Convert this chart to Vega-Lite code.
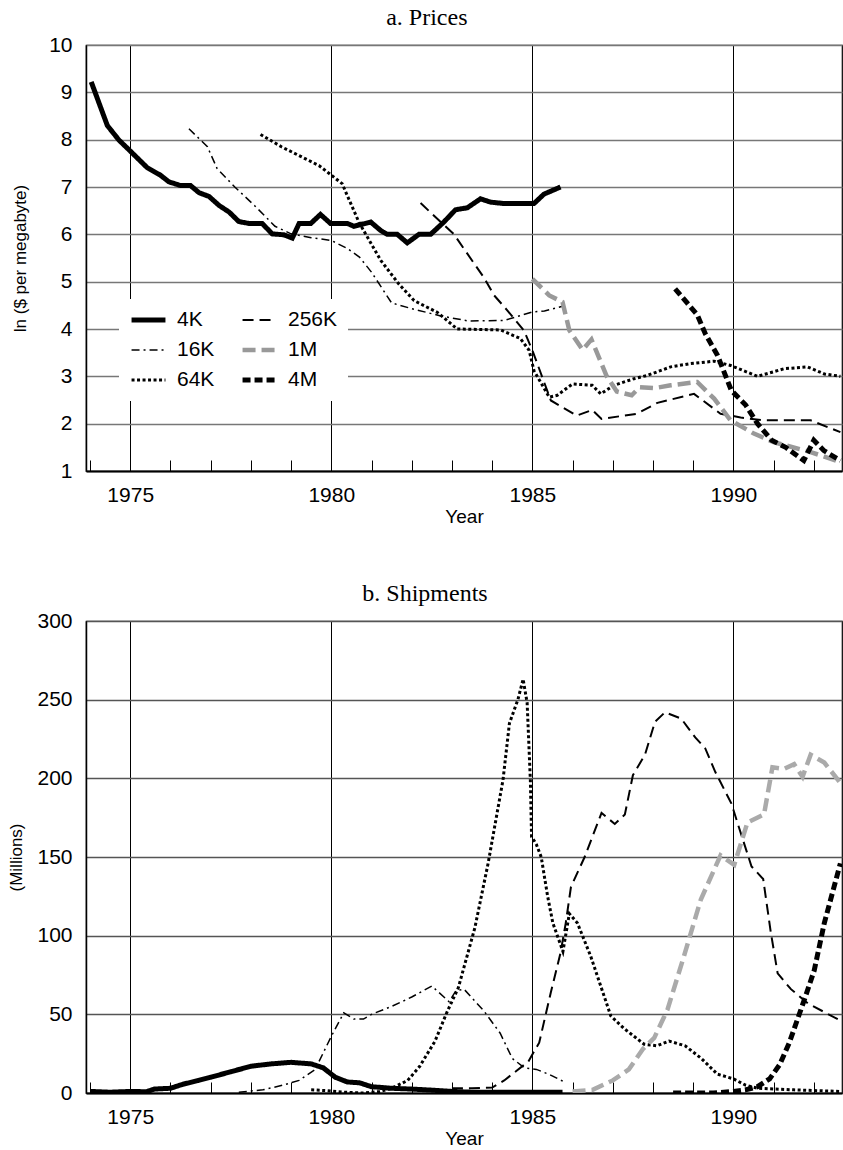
{
  "$schema": "https://vega.github.io/schema/vega-lite/v6.json",
  "padding": {"left": 7, "top": 5, "right": 0, "bottom": 5},
  "background": "white",
  "bounds": "flush",
  "spacing": 150,
  "config": {
    "font": "Liberation Sans",
    "view": {"stroke": "black", "strokeWidth": 1.2},
    "axis": {"labelFont": "Liberation Sans", "labelColor": "black", "titleFont": "Liberation Sans", "titleFontWeight": "normal", "titleColor": "black", "domainColor": "black", "labelFlush": false, "labelOverlap": false},
    "title": {"font": "Liberation Serif", "fontSize": 24, "fontWeight": "normal", "color": "black", "frame": "bounds", "offset": 0},
    "line": {"clip": true}
  },
  "datasets": {
    "prices": [
      {"chip": "4K", "year": 1974.03, "value": 9.22}, {"chip": "4K", "year": 1974.43, "value": 8.3}, {"chip": "4K", "year": 1974.72, "value": 7.99}, {"chip": "4K", "year": 1975.0, "value": 7.76}, {"chip": "4K", "year": 1975.42, "value": 7.41}, {"chip": "4K", "year": 1975.75, "value": 7.25}, {"chip": "4K", "year": 1975.96, "value": 7.11}, {"chip": "4K", "year": 1976.25, "value": 7.03}, {"chip": "4K", "year": 1976.5, "value": 7.03}, {"chip": "4K", "year": 1976.71, "value": 6.88}, {"chip": "4K", "year": 1976.96, "value": 6.8}, {"chip": "4K", "year": 1977.21, "value": 6.61}, {"chip": "4K", "year": 1977.46, "value": 6.47}, {"chip": "4K", "year": 1977.7, "value": 6.27}, {"chip": "4K", "year": 1977.95, "value": 6.23}, {"chip": "4K", "year": 1978.28, "value": 6.23}, {"chip": "4K", "year": 1978.53, "value": 6.01}, {"chip": "4K", "year": 1978.82, "value": 5.99}, {"chip": "4K", "year": 1979.03, "value": 5.92}, {"chip": "4K", "year": 1979.2, "value": 6.23}, {"chip": "4K", "year": 1979.49, "value": 6.23}, {"chip": "4K", "year": 1979.73, "value": 6.42}, {"chip": "4K", "year": 1979.98, "value": 6.23}, {"chip": "4K", "year": 1980.4, "value": 6.23}, {"chip": "4K", "year": 1980.56, "value": 6.17}, {"chip": "4K", "year": 1980.98, "value": 6.26}, {"chip": "4K", "year": 1981.23, "value": 6.08}, {"chip": "4K", "year": 1981.39, "value": 6.0}, {"chip": "4K", "year": 1981.64, "value": 6.0}, {"chip": "4K", "year": 1981.89, "value": 5.82}, {"chip": "4K", "year": 1982.18, "value": 6.0}, {"chip": "4K", "year": 1982.47, "value": 6.0}, {"chip": "4K", "year": 1982.8, "value": 6.26}, {"chip": "4K", "year": 1983.09, "value": 6.52}, {"chip": "4K", "year": 1983.38, "value": 6.56}, {"chip": "4K", "year": 1983.71, "value": 6.75}, {"chip": "4K", "year": 1983.96, "value": 6.68}, {"chip": "4K", "year": 1984.3, "value": 6.65}, {"chip": "4K", "year": 1985.04, "value": 6.65}, {"chip": "4K", "year": 1985.29, "value": 6.85}, {"chip": "4K", "year": 1985.7, "value": 7.0},
      {"chip": "16K", "year": 1976.46, "value": 8.23}, {"chip": "16K", "year": 1976.92, "value": 7.85}, {"chip": "16K", "year": 1977.16, "value": 7.39}, {"chip": "16K", "year": 1977.6, "value": 7.0}, {"chip": "16K", "year": 1978.1, "value": 6.6}, {"chip": "16K", "year": 1978.6, "value": 6.17}, {"chip": "16K", "year": 1979.0, "value": 6.01}, {"chip": "16K", "year": 1979.5, "value": 5.93}, {"chip": "16K", "year": 1980.0, "value": 5.87}, {"chip": "16K", "year": 1980.4, "value": 5.7}, {"chip": "16K", "year": 1980.7, "value": 5.52}, {"chip": "16K", "year": 1981.0, "value": 5.2}, {"chip": "16K", "year": 1981.5, "value": 4.55}, {"chip": "16K", "year": 1982.0, "value": 4.43}, {"chip": "16K", "year": 1982.7, "value": 4.28}, {"chip": "16K", "year": 1983.4, "value": 4.17}, {"chip": "16K", "year": 1984.3, "value": 4.18}, {"chip": "16K", "year": 1985.0, "value": 4.36}, {"chip": "16K", "year": 1985.3, "value": 4.38}, {"chip": "16K", "year": 1985.75, "value": 4.48},
      {"chip": "64K", "year": 1978.24, "value": 8.11}, {"chip": "64K", "year": 1978.76, "value": 7.85}, {"chip": "64K", "year": 1979.7, "value": 7.45}, {"chip": "64K", "year": 1980.0, "value": 7.25}, {"chip": "64K", "year": 1980.27, "value": 7.07}, {"chip": "64K", "year": 1980.69, "value": 6.25}, {"chip": "64K", "year": 1981.23, "value": 5.45}, {"chip": "64K", "year": 1981.68, "value": 4.95}, {"chip": "64K", "year": 1982.06, "value": 4.6}, {"chip": "64K", "year": 1982.64, "value": 4.35}, {"chip": "64K", "year": 1983.13, "value": 4.0}, {"chip": "64K", "year": 1984.21, "value": 3.98}, {"chip": "64K", "year": 1984.7, "value": 3.8}, {"chip": "64K", "year": 1984.92, "value": 3.55}, {"chip": "64K", "year": 1985.04, "value": 3.12}, {"chip": "64K", "year": 1985.42, "value": 2.56}, {"chip": "64K", "year": 1985.62, "value": 2.6}, {"chip": "64K", "year": 1986.0, "value": 2.84}, {"chip": "64K", "year": 1986.49, "value": 2.81}, {"chip": "64K", "year": 1986.7, "value": 2.63}, {"chip": "64K", "year": 1987.03, "value": 2.81}, {"chip": "64K", "year": 1987.53, "value": 2.95}, {"chip": "64K", "year": 1987.86, "value": 3.02}, {"chip": "64K", "year": 1988.44, "value": 3.2}, {"chip": "64K", "year": 1988.94, "value": 3.27}, {"chip": "64K", "year": 1989.52, "value": 3.32}, {"chip": "64K", "year": 1989.93, "value": 3.23}, {"chip": "64K", "year": 1990.6, "value": 3.0}, {"chip": "64K", "year": 1991.26, "value": 3.16}, {"chip": "64K", "year": 1991.84, "value": 3.2}, {"chip": "64K", "year": 1992.26, "value": 3.05}, {"chip": "64K", "year": 1992.66, "value": 3.0},
      {"chip": "256K", "year": 1982.22, "value": 6.66}, {"chip": "256K", "year": 1983.05, "value": 6.0}, {"chip": "256K", "year": 1983.8, "value": 5.08}, {"chip": "256K", "year": 1984.05, "value": 4.71}, {"chip": "256K", "year": 1984.38, "value": 4.39}, {"chip": "256K", "year": 1984.79, "value": 3.97}, {"chip": "256K", "year": 1985.0, "value": 3.55}, {"chip": "256K", "year": 1985.46, "value": 2.49}, {"chip": "256K", "year": 1986.1, "value": 2.17}, {"chip": "256K", "year": 1986.49, "value": 2.29}, {"chip": "256K", "year": 1986.72, "value": 2.1}, {"chip": "256K", "year": 1987.6, "value": 2.21}, {"chip": "256K", "year": 1988.11, "value": 2.44}, {"chip": "256K", "year": 1989.02, "value": 2.63}, {"chip": "256K", "year": 1989.68, "value": 2.21}, {"chip": "256K", "year": 1990.18, "value": 2.13}, {"chip": "256K", "year": 1990.76, "value": 2.07}, {"chip": "256K", "year": 1991.92, "value": 2.07}, {"chip": "256K", "year": 1992.66, "value": 1.82},
      {"chip": "1M", "year": 1985.0, "value": 5.06}, {"chip": "1M", "year": 1985.42, "value": 4.71}, {"chip": "1M", "year": 1985.75, "value": 4.57}, {"chip": "1M", "year": 1985.92, "value": 3.97}, {"chip": "1M", "year": 1986.25, "value": 3.56}, {"chip": "1M", "year": 1986.47, "value": 3.78}, {"chip": "1M", "year": 1986.85, "value": 3.0}, {"chip": "1M", "year": 1987.1, "value": 2.68}, {"chip": "1M", "year": 1987.47, "value": 2.6}, {"chip": "1M", "year": 1987.67, "value": 2.77}, {"chip": "1M", "year": 1988.03, "value": 2.75}, {"chip": "1M", "year": 1988.44, "value": 2.81}, {"chip": "1M", "year": 1989.1, "value": 2.88}, {"chip": "1M", "year": 1989.52, "value": 2.53}, {"chip": "1M", "year": 1989.93, "value": 2.07}, {"chip": "1M", "year": 1990.51, "value": 1.79}, {"chip": "1M", "year": 1991.0, "value": 1.61}, {"chip": "1M", "year": 1991.92, "value": 1.4}, {"chip": "1M", "year": 1992.66, "value": 1.19},
      {"chip": "4M", "year": 1988.55, "value": 4.85}, {"chip": "4M", "year": 1988.85, "value": 4.55}, {"chip": "4M", "year": 1989.1, "value": 4.3}, {"chip": "4M", "year": 1989.3, "value": 3.9}, {"chip": "4M", "year": 1989.6, "value": 3.45}, {"chip": "4M", "year": 1989.95, "value": 2.7}, {"chip": "4M", "year": 1990.3, "value": 2.4}, {"chip": "4M", "year": 1990.6, "value": 2.0}, {"chip": "4M", "year": 1990.95, "value": 1.65}, {"chip": "4M", "year": 1991.3, "value": 1.5}, {"chip": "4M", "year": 1991.75, "value": 1.22}, {"chip": "4M", "year": 1992.0, "value": 1.65}, {"chip": "4M", "year": 1992.25, "value": 1.43}, {"chip": "4M", "year": 1992.66, "value": 1.22}
    ],
    "ships": [
      {"chip": "4K", "year": 1974.0, "value": 1}, {"chip": "4K", "year": 1974.5, "value": 0.5}, {"chip": "4K", "year": 1975.0, "value": 1}, {"chip": "4K", "year": 1975.4, "value": 0.8}, {"chip": "4K", "year": 1975.6, "value": 2.5}, {"chip": "4K", "year": 1976.0, "value": 3}, {"chip": "4K", "year": 1976.3, "value": 5.5}, {"chip": "4K", "year": 1976.7, "value": 8}, {"chip": "4K", "year": 1977.0, "value": 10}, {"chip": "4K", "year": 1977.5, "value": 13.5}, {"chip": "4K", "year": 1978.0, "value": 17}, {"chip": "4K", "year": 1978.5, "value": 18.5}, {"chip": "4K", "year": 1979.0, "value": 19.5}, {"chip": "4K", "year": 1979.5, "value": 18.5}, {"chip": "4K", "year": 1979.8, "value": 16}, {"chip": "4K", "year": 1980.1, "value": 10}, {"chip": "4K", "year": 1980.4, "value": 7}, {"chip": "4K", "year": 1980.7, "value": 6.5}, {"chip": "4K", "year": 1981.0, "value": 4}, {"chip": "4K", "year": 1981.5, "value": 3}, {"chip": "4K", "year": 1982.0, "value": 2.5}, {"chip": "4K", "year": 1982.5, "value": 1.8}, {"chip": "4K", "year": 1983.0, "value": 1}, {"chip": "4K", "year": 1983.5, "value": 0.5}, {"chip": "4K", "year": 1984.5, "value": 0.5}, {"chip": "4K", "year": 1985.75, "value": 0.5},
      {"chip": "16K", "year": 1977.7, "value": 0.5}, {"chip": "16K", "year": 1978.3, "value": 2}, {"chip": "16K", "year": 1978.8, "value": 5}, {"chip": "16K", "year": 1979.2, "value": 8}, {"chip": "16K", "year": 1979.6, "value": 15}, {"chip": "16K", "year": 1979.98, "value": 35}, {"chip": "16K", "year": 1980.31, "value": 51}, {"chip": "16K", "year": 1980.56, "value": 47}, {"chip": "16K", "year": 1980.8, "value": 47}, {"chip": "16K", "year": 1981.0, "value": 50}, {"chip": "16K", "year": 1981.5, "value": 55}, {"chip": "16K", "year": 1982.0, "value": 61}, {"chip": "16K", "year": 1982.5, "value": 68}, {"chip": "16K", "year": 1982.93, "value": 58}, {"chip": "16K", "year": 1983.1, "value": 65}, {"chip": "16K", "year": 1983.3, "value": 66}, {"chip": "16K", "year": 1983.8, "value": 52}, {"chip": "16K", "year": 1984.2, "value": 38}, {"chip": "16K", "year": 1984.5, "value": 22}, {"chip": "16K", "year": 1984.8, "value": 16}, {"chip": "16K", "year": 1985.1, "value": 15}, {"chip": "16K", "year": 1985.4, "value": 12}, {"chip": "16K", "year": 1985.8, "value": 7},
      {"chip": "64K", "year": 1979.5, "value": 2}, {"chip": "64K", "year": 1979.9, "value": 1.5}, {"chip": "64K", "year": 1980.3, "value": 0.5}, {"chip": "64K", "year": 1980.8, "value": 0}, {"chip": "64K", "year": 1981.2, "value": 1}, {"chip": "64K", "year": 1981.5, "value": 3}, {"chip": "64K", "year": 1981.9, "value": 8}, {"chip": "64K", "year": 1982.2, "value": 17}, {"chip": "64K", "year": 1982.58, "value": 33}, {"chip": "64K", "year": 1982.87, "value": 51}, {"chip": "64K", "year": 1983.16, "value": 67}, {"chip": "64K", "year": 1983.57, "value": 105}, {"chip": "64K", "year": 1983.9, "value": 146}, {"chip": "64K", "year": 1984.27, "value": 199}, {"chip": "64K", "year": 1984.43, "value": 235}, {"chip": "64K", "year": 1984.64, "value": 250}, {"chip": "64K", "year": 1984.77, "value": 263}, {"chip": "64K", "year": 1984.87, "value": 248}, {"chip": "64K", "year": 1984.95, "value": 199}, {"chip": "64K", "year": 1984.98, "value": 163}, {"chip": "64K", "year": 1985.1, "value": 158}, {"chip": "64K", "year": 1985.22, "value": 150}, {"chip": "64K", "year": 1985.38, "value": 125}, {"chip": "64K", "year": 1985.51, "value": 108}, {"chip": "64K", "year": 1985.76, "value": 90}, {"chip": "64K", "year": 1985.92, "value": 114}, {"chip": "64K", "year": 1986.12, "value": 108}, {"chip": "64K", "year": 1986.45, "value": 87}, {"chip": "64K", "year": 1986.95, "value": 49}, {"chip": "64K", "year": 1987.28, "value": 41}, {"chip": "64K", "year": 1987.78, "value": 31}, {"chip": "64K", "year": 1988.1, "value": 30}, {"chip": "64K", "year": 1988.4, "value": 33}, {"chip": "64K", "year": 1988.8, "value": 30}, {"chip": "64K", "year": 1989.2, "value": 22}, {"chip": "64K", "year": 1989.6, "value": 12}, {"chip": "64K", "year": 1990.0, "value": 9}, {"chip": "64K", "year": 1990.3, "value": 5}, {"chip": "64K", "year": 1990.6, "value": 3}, {"chip": "64K", "year": 1991.5, "value": 2}, {"chip": "64K", "year": 1992.66, "value": 1},
      {"chip": "256K", "year": 1983.0, "value": 3}, {"chip": "256K", "year": 1983.5, "value": 3}, {"chip": "256K", "year": 1984.0, "value": 3.5}, {"chip": "256K", "year": 1984.3, "value": 8}, {"chip": "256K", "year": 1984.6, "value": 14}, {"chip": "256K", "year": 1984.9, "value": 20}, {"chip": "256K", "year": 1985.17, "value": 32}, {"chip": "256K", "year": 1985.46, "value": 64}, {"chip": "256K", "year": 1985.7, "value": 89}, {"chip": "256K", "year": 1985.83, "value": 108}, {"chip": "256K", "year": 1985.96, "value": 131}, {"chip": "256K", "year": 1986.3, "value": 150}, {"chip": "256K", "year": 1986.72, "value": 178}, {"chip": "256K", "year": 1987.05, "value": 171}, {"chip": "256K", "year": 1987.3, "value": 177}, {"chip": "256K", "year": 1987.5, "value": 202}, {"chip": "256K", "year": 1987.8, "value": 215}, {"chip": "256K", "year": 1988.05, "value": 236}, {"chip": "256K", "year": 1988.3, "value": 242}, {"chip": "256K", "year": 1988.7, "value": 238}, {"chip": "256K", "year": 1989.05, "value": 226}, {"chip": "256K", "year": 1989.3, "value": 219}, {"chip": "256K", "year": 1989.55, "value": 204}, {"chip": "256K", "year": 1989.95, "value": 184}, {"chip": "256K", "year": 1990.16, "value": 167}, {"chip": "256K", "year": 1990.45, "value": 144}, {"chip": "256K", "year": 1990.74, "value": 136}, {"chip": "256K", "year": 1990.93, "value": 102}, {"chip": "256K", "year": 1991.1, "value": 76}, {"chip": "256K", "year": 1991.43, "value": 66}, {"chip": "256K", "year": 1991.85, "value": 57}, {"chip": "256K", "year": 1992.66, "value": 46},
      {"chip": "1M", "year": 1986.0, "value": 1}, {"chip": "1M", "year": 1986.5, "value": 2}, {"chip": "1M", "year": 1987.0, "value": 8}, {"chip": "1M", "year": 1987.4, "value": 15}, {"chip": "1M", "year": 1987.75, "value": 28}, {"chip": "1M", "year": 1988.03, "value": 35}, {"chip": "1M", "year": 1988.36, "value": 53}, {"chip": "1M", "year": 1988.77, "value": 87}, {"chip": "1M", "year": 1989.19, "value": 123}, {"chip": "1M", "year": 1989.68, "value": 151}, {"chip": "1M", "year": 1990.02, "value": 145}, {"chip": "1M", "year": 1990.35, "value": 172}, {"chip": "1M", "year": 1990.76, "value": 177}, {"chip": "1M", "year": 1990.97, "value": 207}, {"chip": "1M", "year": 1991.26, "value": 206}, {"chip": "1M", "year": 1991.51, "value": 209}, {"chip": "1M", "year": 1991.72, "value": 201}, {"chip": "1M", "year": 1991.92, "value": 215}, {"chip": "1M", "year": 1992.26, "value": 210}, {"chip": "1M", "year": 1992.66, "value": 197},
      {"chip": "4M", "year": 1988.5, "value": 0}, {"chip": "4M", "year": 1989.0, "value": 0}, {"chip": "4M", "year": 1989.5, "value": 0}, {"chip": "4M", "year": 1990.0, "value": 1}, {"chip": "4M", "year": 1990.3, "value": 2}, {"chip": "4M", "year": 1990.6, "value": 4}, {"chip": "4M", "year": 1990.9, "value": 9}, {"chip": "4M", "year": 1991.15, "value": 18}, {"chip": "4M", "year": 1991.39, "value": 32}, {"chip": "4M", "year": 1991.76, "value": 59}, {"chip": "4M", "year": 1992.01, "value": 78}, {"chip": "4M", "year": 1992.26, "value": 108}, {"chip": "4M", "year": 1992.66, "value": 146}
    ]
  },
  "vconcat": [
    {
      "title": {"text": "a. Prices"},
      "width": 756,
      "height": 426,
      "data": {"name": "prices"},
      "mark": {"type": "line", "clip": true},
      "encoding": {
        "x": {"field": "year", "type": "quantitative", "scale": {"domain": [1973.9, 1992.7], "nice": false, "zero": false},
          "axis": {"values": [1974, 1975, 1976, 1977, 1978, 1979, 1980, 1981, 1982, 1983, 1984, 1985, 1986, 1987, 1988, 1989, 1990, 1991, 1992],
            "format": "d", "labelExpr": "datum.value % 5 === 0 ? datum.label : ''", "labelFontSize": 21, "labelPadding": 24,
            "tickSize": -11, "tickColor": "black", "tickWidth": 1, "domainWidth": 2,
            "grid": true, "gridColor": "black", "gridWidth": 1, "gridOpacity": {"condition": {"test": "datum.value % 5 === 0", "value": 1}, "value": 0},
            "title": "Year", "titleFontSize": 19, "titlePadding": 2}},
        "y": {"field": "value", "type": "quantitative", "scale": {"domain": [1, 10], "nice": false, "zero": false},
          "axis": {"values": [1, 2, 3, 4, 5, 6, 7, 8, 9, 10], "labelFontSize": 21, "ticks": false, "labelPadding": 14, "domainWidth": 1.5,
            "grid": true, "gridColor": "#777777", "gridWidth": 1.3, "title": "ln ($ per megabyte)", "titleFontSize": 17, "titlePadding": 19}},
        "color": {"field": "chip", "type": "nominal",
          "scale": {"domain": ["4K", "16K", "64K", "256K", "1M", "4M"], "range": ["black", "black", "black", "black", "#999999", "black"]},
          "legend": {"orient": "none", "legendX": 33, "legendY": 254, "columns": 2, "direction": "vertical", "title": null, "symbolType": "stroke", "symbolSize": 1150,
            "clipHeight": 22, "rowPadding": 8, "columnPadding": 25, "labelOffset": 9, "labelFontSize": 21, "labelFont": "Liberation Sans", "labelColor": "black",
            "fillColor": "white", "padding": 10}},
        "strokeDash": {"field": "chip", "type": "nominal",
          "scale": {"domain": ["4K", "16K", "64K", "256K", "1M", "4M"], "range": [[1, 0], [8, 4, 2, 4], [3, 2.5], [11, 6], [13, 6], [8, 4]]}},
        "strokeWidth": {"field": "chip", "type": "nominal",
          "scale": {"type": "ordinal", "domain": ["4K", "16K", "64K", "256K", "1M", "4M"], "range": [5, 1.5, 3, 2, 4.5, 5]}}
      }
    },
    {
      "title": {"text": "b. Shipments"},
      "width": 756,
      "height": 472,
      "data": {"name": "ships"},
      "mark": {"type": "line", "clip": true},
      "encoding": {
        "x": {"field": "year", "type": "quantitative", "scale": {"domain": [1973.9, 1992.7], "nice": false, "zero": false},
          "axis": {"values": [1974, 1975, 1976, 1977, 1978, 1979, 1980, 1981, 1982, 1983, 1984, 1985, 1986, 1987, 1988, 1989, 1990, 1991, 1992],
            "format": "d", "labelExpr": "datum.value % 5 === 0 ? datum.label : ''", "labelFontSize": 21, "labelPadding": 24,
            "tickSize": -11, "tickColor": "black", "tickWidth": 1, "domainWidth": 2,
            "grid": true, "gridColor": "black", "gridWidth": 1, "gridOpacity": {"condition": {"test": "datum.value % 5 === 0", "value": 1}, "value": 0},
            "title": "Year", "titleFontSize": 19, "titlePadding": 2}},
        "y": {"field": "value", "type": "quantitative", "scale": {"domain": [0, 300], "nice": false},
          "axis": {"values": [0, 50, 100, 150, 200, 250, 300], "labelFontSize": 21, "ticks": false, "labelPadding": 14, "domainWidth": 1.5,
            "grid": true, "gridColor": "#555555", "gridWidth": 1.3, "title": "(Millions)", "titleFontSize": 17, "titlePadding": 11}},
        "color": {"field": "chip", "type": "nominal",
          "scale": {"domain": ["4K", "16K", "64K", "256K", "1M", "4M"], "range": ["black", "black", "black", "black", "#aaaaaa", "black"]}, "legend": null},
        "strokeDash": {"field": "chip", "type": "nominal",
          "scale": {"domain": ["4K", "16K", "64K", "256K", "1M", "4M"], "range": [[1, 0], [8, 4, 2, 4], [3, 2.5], [11, 6], [13, 6], [8, 4]]}, "legend": null},
        "strokeWidth": {"field": "chip", "type": "nominal",
          "scale": {"type": "ordinal", "domain": ["4K", "16K", "64K", "256K", "1M", "4M"], "range": [5, 1.5, 3, 2, 4.5, 5]}, "legend": null}
      }
    }
  ],
  "resolve": {
    "scale": {"x": "independent", "y": "independent", "color": "independent", "strokeDash": "independent", "strokeWidth": "independent"},
    "legend": {"color": "independent", "strokeDash": "independent", "strokeWidth": "independent"}
  }
}
